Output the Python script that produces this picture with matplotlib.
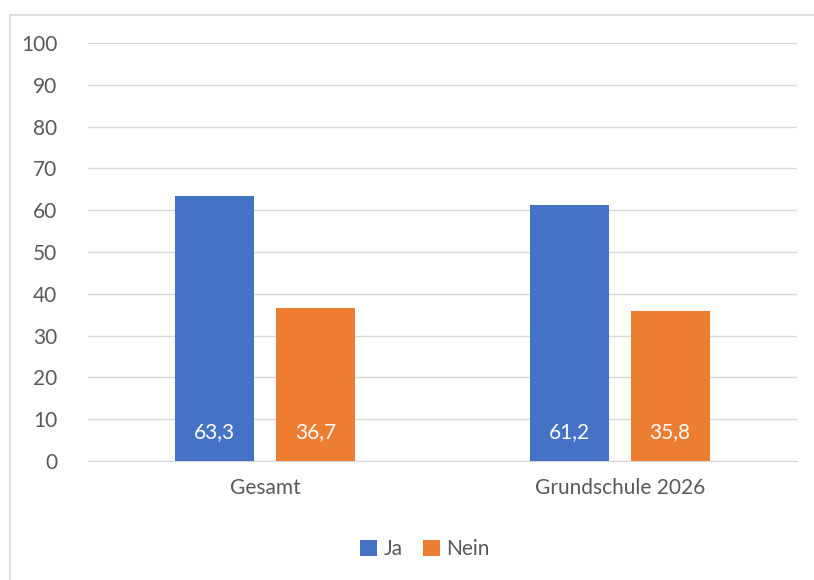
import matplotlib
matplotlib.use("Agg")
import matplotlib.pyplot as plt
import numpy as np
from matplotlib.lines import Line2D

plt.rcParams["font.family"] = ["Lato", "DejaVu Sans"]

categories = ["Gesamt", "Grundschule 2026"]
series_names = ["Ja", "Nein"]
ja_values = [63.3, 61.2]
nein_values = [36.7, 35.8]
colors = ["#4472C4", "#ED7D31"]
text_color = "#595959"

fig = plt.figure(figsize=(8.14, 5.8), dpi=100)
# chart border: only top and left edges are inside the image
fig.add_artist(Line2D([9.5 / 814, 9.5 / 814], [0, 1 - 14.5 / 580],
                      transform=fig.transFigure, color="#d9d9d9", linewidth=1.2))
fig.add_artist(Line2D([9.5 / 814, 1], [1 - 14.5 / 580, 1 - 14.5 / 580],
                      transform=fig.transFigure, color="#d9d9d9", linewidth=1.2))

ax = fig.add_axes([88 / 814, 1 - 461 / 580, 709 / 814, 418 / 580])
x = np.arange(len(categories))
width = 0.223
offset = 0.142
for vals, name, col, dx in zip([ja_values, nein_values], series_names, colors, [-offset, offset]):
    bars = ax.bar(x + dx, vals, width, color=col, label=name, zorder=3)
    for b, v in zip(bars, vals):
        ax.text(b.get_x() + b.get_width() / 2, 7, f"{v:.1f}".replace(".", ","),
                ha="center", va="center", color="white", fontsize=15, zorder=4)

ax.set_xlim(-0.5, 1.5)
ax.set_ylim(0, 100)
ax.set_yticks(range(0, 101, 10))
ax.set_xticks(x)
ax.set_xticklabels(categories)
ax.tick_params(axis="both", length=0, labelsize=15, colors=text_color)
ax.tick_params(axis="y", pad=22)
ax.tick_params(axis="x", pad=12)
ax.grid(axis="y", color="#d9d9d9", linewidth=1, zorder=0)
for s in ["top", "right", "left"]:
    ax.spines[s].set_visible(False)
ax.spines["bottom"].set_color("#d9d9d9")

fig.legend(loc="center", bbox_to_anchor=(425 / 814, 1 - 549 / 580), ncol=2,
           frameon=False, fontsize=15, labelcolor=text_color,
           handlelength=0.8, handleheight=0.8, handletextpad=0.3, columnspacing=1.0)

fig.savefig("out.png", dpi=100)
